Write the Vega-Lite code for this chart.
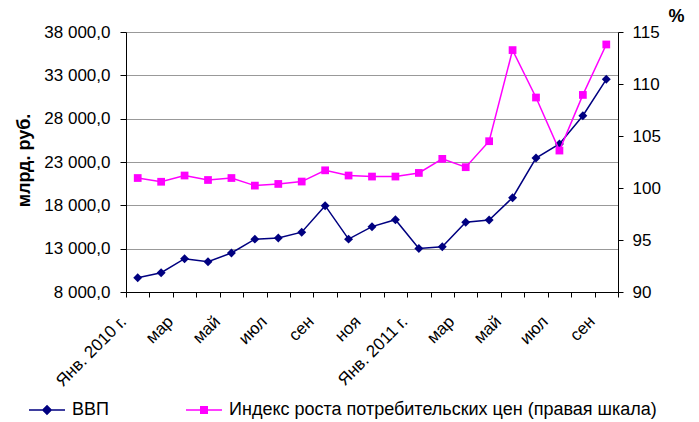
{
  "$schema": "https://vega.github.io/schema/vega-lite/v6.json",
  "width": 492,
  "height": 260,
  "autosize": "none",
  "padding": {"left": 126, "top": 32, "right": 81, "bottom": 130},
  "config": {
    "font": "Liberation Sans",
    "view": {"stroke": null},
    "axis": {"labelFont": "Liberation Sans", "titleFont": "Liberation Sans", "labelColor": "#000", "titleColor": "#000", "domainColor": "#000", "tickColor": "#000", "labelFontSize": 17, "labelFontWeight": "normal"}
  },
  "data": {
    "values": [
      {"month": "2010-01", "gdp": 9650, "cpi": 100.96},
      {"month": "2010-02", "gdp": 10230, "cpi": 100.6},
      {"month": "2010-03", "gdp": 11840, "cpi": 101.2},
      {"month": "2010-04", "gdp": 11500, "cpi": 100.77},
      {"month": "2010-05", "gdp": 12500, "cpi": 100.96},
      {"month": "2010-06", "gdp": 14100, "cpi": 100.23},
      {"month": "2010-07", "gdp": 14230, "cpi": 100.39},
      {"month": "2010-08", "gdp": 14900, "cpi": 100.62},
      {"month": "2010-09", "gdp": 17960, "cpi": 101.7},
      {"month": "2010-10", "gdp": 14100, "cpi": 101.2},
      {"month": "2010-11", "gdp": 15540, "cpi": 101.1},
      {"month": "2010-12", "gdp": 16340, "cpi": 101.1},
      {"month": "2011-01", "gdp": 13020, "cpi": 101.45},
      {"month": "2011-02", "gdp": 13230, "cpi": 102.8},
      {"month": "2011-03", "gdp": 16040, "cpi": 102.0},
      {"month": "2011-04", "gdp": 16310, "cpi": 104.5},
      {"month": "2011-05", "gdp": 18880, "cpi": 113.26},
      {"month": "2011-06", "gdp": 23460, "cpi": 108.7},
      {"month": "2011-07", "gdp": 25080, "cpi": 103.6},
      {"month": "2011-08", "gdp": 28340, "cpi": 108.95},
      {"month": "2011-09", "gdp": 32540, "cpi": 113.8}
    ]
  },
  "encoding": {
    "x": {
      "field": "month",
      "type": "ordinal",
      "scale": {"type": "band", "paddingInner": 0, "paddingOuter": 0},
      "axis": {
        "title": null,
        "grid": false,
        "tickBand": "extent",
        "tickSize": 5,
        "labelAngle": -45,
        "labelOverlap": false,
        "labelPadding": 16,
        "labelOffset": -20,
        "labelExpr": "isString(datum.value) && length(datum.value) == 7 ? (toNumber(slice(datum.value,5)) % 2 == 1 ? (slice(datum.value,5) == '01' ? 'Янв. ' + slice(datum.value,0,4) + ' г.' : ['Янв.','фев','мар','апр','май','июн','июл','авг','сен','окт','ноя','дек'][toNumber(slice(datum.value,5)) - 1]) : '') : ''"
      }
    }
  },
  "layer": [
    {
      "encoding": {
        "y": {
          "field": "gdp",
          "type": "quantitative",
          "scale": {"domain": [8000, 38000], "nice": false, "zero": false},
          "axis": {
            "orient": "left",
            "values": [8000, 13000, 18000, 23000, 28000, 33000, 38000],
            "grid": true,
            "gridColor": "#999",
            "tickSize": 6,
            "labelPadding": 10,
            "labelExpr": "replace(replace(format(datum.value, ',.1f'), ',', ' '), '.', ',')",
            "title": "млрд. руб.",
            "titleFontSize": 18,
            "titleFontWeight": "bold",
            "titleX": -102,
            "titleY": 128,
            "titleAngle": -90,
            "titleAlign": "center",
            "titleBaseline": "middle"
          }
        }
      },
      "layer": [
        {
          "mark": {"type": "line", "strokeWidth": 1.5},
          "encoding": {
            "color": {
              "datum": "ВВП",
              "type": "nominal",
              "scale": {"domain": ["ВВП", "Индекс роста потребительских цен (правая шкала)"], "range": ["#000080", "#FF00FF"]},
              "legend": {
                "orient": "none",
                "legendX": -98,
                "legendY": 359,
                "direction": "horizontal",
                "columns": 2,
                "columnPadding": 74,
                "title": null,
                "labelFont": "Liberation Sans",
                "labelFontSize": 18,
                "labelColor": "#000",
                "labelLimit": 0,
                "labelOffset": 6,
                "symbolSize": 1296,
                "symbolStrokeWidth": 1.5,
                "symbolType": "M-1,0L1,0M0,-0.23L0.23,0L0,0.23L-0.23,0Z",
                "encode": {
                  "symbols": {
                    "update": {
                      "shape": {"signal": "datum.value === 'ВВП' ? 'M-1,0L1,0M0,-0.23L0.23,0L0,0.23L-0.23,0Z' : 'M-1,0L1,0M-0.18,-0.18L0.18,-0.18L0.18,0.18L-0.18,0.18Z'"},
                      "fill": {"scale": "color", "field": "value"},
                      "opacity": {"value": 1}
                    }
                  }
                }
              }
            }
          }
        },
        {
          "mark": {"type": "point", "shape": "diamond", "filled": true, "size": 80, "color": "#000080", "opacity": 1}
        }
      ]
    },
    {
      "encoding": {
        "y": {
          "field": "cpi",
          "type": "quantitative",
          "scale": {"domain": [90, 115], "nice": false, "zero": false},
          "axis": {
            "orient": "right",
            "values": [90, 95, 100, 105, 110, 115],
            "grid": false,
            "tickSize": 5,
            "labelPadding": 9,
            "title": "%",
            "titleFontSize": 18,
            "titleFontWeight": "bold",
            "titleAngle": 0,
            "titleX": 58,
            "titleY": -16,
            "titleAlign": "center",
            "titleBaseline": "middle"
          }
        }
      },
      "layer": [
        {
          "mark": {"type": "line", "strokeWidth": 1.5},
          "encoding": {
            "color": {"datum": "Индекс роста потребительских цен (правая шкала)", "type": "nominal"}
          }
        },
        {
          "mark": {"type": "point", "shape": "square", "filled": true, "size": 60, "color": "#FF00FF", "opacity": 1}
        }
      ]
    }
  ],
  "resolve": {"scale": {"y": "independent"}}
}
